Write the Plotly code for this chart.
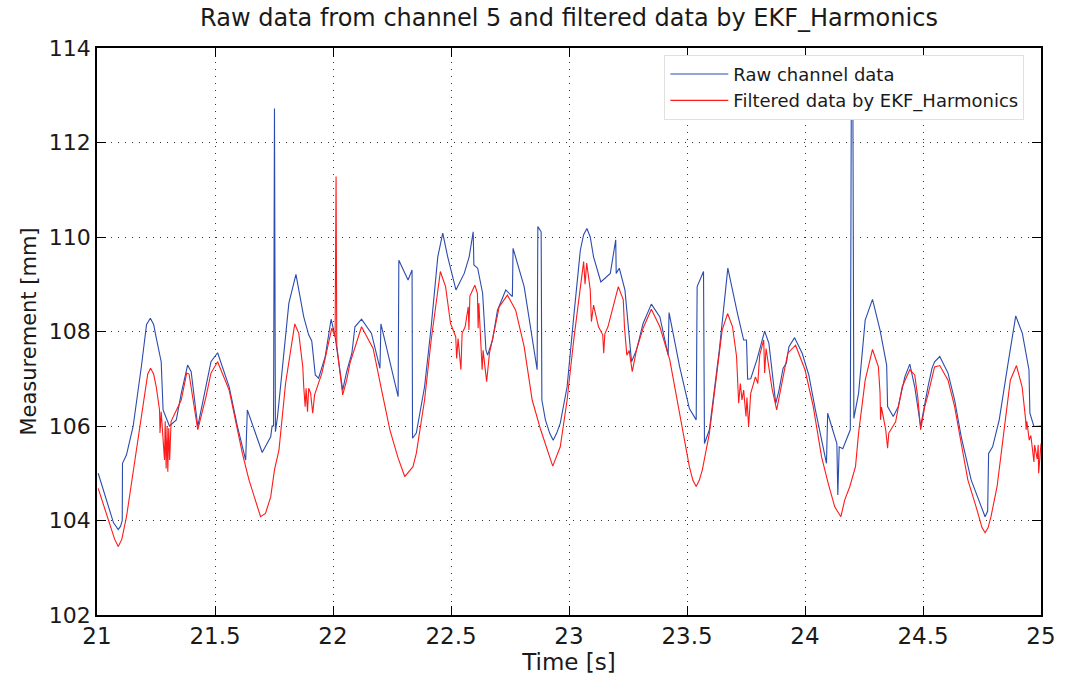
import plotly.graph_objects as go

# Raw channel data (time [s], measurement [mm])
raw_t = [21.005, 21.04, 21.07, 21.09, 21.1, 21.107, 21.108, 21.125, 21.153, 21.188, 21.21, 21.226, 21.24,
         21.25, 21.272, 21.28,
         21.307, 21.336, 21.357, 21.384, 21.399, 21.427, 21.448, 21.462, 21.483, 21.511, 21.56, 21.595,
         21.63, 21.637, 21.70, 21.736, 21.742, 21.748, 21.752, 21.756, 21.765, 21.813, 21.843, 21.876,
         21.897, 21.91, 21.925, 21.939, 21.967, 21.992, 22.009, 22.041, 22.058, 22.08, 22.093, 22.121,
         22.163, 22.199, 22.203, 22.276, 22.279, 22.318, 22.335, 22.337, 22.353, 22.388, 22.416, 22.444,
         22.465, 22.486, 22.521, 22.556, 22.577, 22.594, 22.597, 22.613, 22.634, 22.648, 22.655, 22.676,
         22.697, 22.732, 22.76, 22.763, 22.81, 22.865, 22.868, 22.882, 22.885, 22.90, 22.918, 22.933, 22.948,
         22.963, 22.992, 23.02, 23.048, 23.062, 23.076, 23.09, 23.104, 23.135, 23.175, 23.198, 23.200, 23.213,
         23.237, 23.265, 23.286, 23.314, 23.349, 23.385, 23.42, 23.424, 23.469, 23.51, 23.539, 23.543,
         23.57, 23.574, 23.595, 23.637, 23.673, 23.714, 23.74, 23.752, 23.757, 23.77, 23.796, 23.829,
         23.847, 23.876, 23.89, 23.907, 23.921, 23.932, 23.956, 23.988, 24.016, 24.044, 24.091, 24.096,
         24.135, 24.139, 24.145, 24.16, 24.178, 24.192, 24.196, 24.203, 24.207, 24.227, 24.255, 24.286,
         24.318, 24.346, 24.35, 24.374, 24.395, 24.423, 24.444, 24.465, 24.49, 24.507, 24.521, 24.538,
         24.549, 24.571, 24.606, 24.634, 24.662, 24.704, 24.763, 24.774, 24.778, 24.795, 24.823, 24.858,
         24.893, 24.921, 24.949, 24.953, 24.97, 25.0]
raw_y = [105.0, 104.43, 103.95, 103.81, 103.88, 104.0, 105.21, 105.39, 105.99, 107.26, 108.15, 108.28, 108.15,
         107.89, 107.36, 106.34,
         106.0, 106.13, 106.69, 107.29, 107.15, 105.99, 106.48, 106.82, 107.36, 107.55, 106.83, 105.99,
         105.28, 106.34, 105.44, 105.77, 106.0, 106.0, 112.72, 105.88, 106.2, 108.6, 109.21, 108.31,
         107.93, 107.8, 107.08, 107.01, 107.47, 108.26, 107.89, 106.76, 107.15, 107.54, 108.1, 108.26,
         107.96, 107.22, 108.16, 106.62, 109.51, 109.09, 109.30, 105.74, 105.85, 106.83, 108.1, 109.58,
         110.08, 109.58, 108.88, 109.23, 109.58, 110.11, 109.41, 109.34, 108.81, 107.61, 107.50, 107.82,
         108.45, 108.88, 108.74, 109.76, 108.95, 107.19, 110.22, 110.11, 106.55, 106.13, 105.85, 105.70, 105.85,
         106.06, 106.83, 108.31, 109.72, 110.05, 110.18, 110.0, 109.58, 109.05, 109.23, 109.94, 109.23, 109.34,
         108.88, 107.36, 107.61, 108.17, 108.58, 108.31, 107.50, 108.40, 107.25, 106.37, 106.13, 108.95,
         109.27, 105.63, 105.92, 107.61, 109.34, 108.38, 107.82, 107.82, 106.99, 107.0, 107.40, 108.01,
         107.75, 106.48, 106.76, 107.22, 107.33, 107.68, 107.87, 107.54, 107.08, 106.34, 105.21, 106.27,
         105.63, 104.54, 105.56, 105.52, 105.77, 105.92, 112.69, 112.69, 106.16, 106.69, 108.24, 108.68,
         108.03, 107.29, 106.41, 106.20, 106.41, 107.04, 107.31, 106.83, 105.99, 106.48, 106.83, 107.22,
         107.36, 107.47, 107.12, 106.55, 105.77, 104.86, 104.08, 104.2, 105.42, 105.56, 106.13, 107.25,
         108.33, 107.96, 107.19, 106.27, 105.99, 106.0]

# Filtered data by EKF_Harmonics
filt_t = [21.005, 21.04, 21.075, 21.09, 21.105, 21.125, 21.167, 21.195, 21.215, 21.227, 21.24, 21.251,
          21.265, 21.267, 21.272, 21.286,
          21.289, 21.293, 21.297, 21.30, 21.304, 21.308, 21.314, 21.357, 21.38, 21.39, 21.427, 21.448,
          21.462, 21.483, 21.511, 21.56, 21.616, 21.644, 21.672, 21.693, 21.714, 21.736, 21.752, 21.771,
          21.799, 21.838, 21.855, 21.872, 21.876, 21.882, 21.886, 21.892, 21.897, 21.905, 21.914, 21.922,
          21.953, 21.995, 22.009, 22.013, 22.016, 22.041, 22.058, 22.072, 22.121, 22.17, 22.206, 22.241,
          22.276, 22.304, 22.339, 22.353, 22.388, 22.416, 22.455, 22.477, 22.498, 22.52, 22.524, 22.53,
          22.542, 22.547, 22.56, 22.573, 22.576, 22.580, 22.601, 22.612, 22.615, 22.618, 22.632, 22.636,
          22.651, 22.663, 22.684, 22.704, 22.739, 22.774, 22.81, 22.844, 22.88, 22.931, 22.963, 22.992,
          23.02, 23.062, 23.068, 23.075, 23.09, 23.095, 23.104, 23.125, 23.143, 23.147, 23.152, 23.165,
          23.209, 23.23, 23.235, 23.245, 23.255, 23.268, 23.286, 23.314, 23.349, 23.385, 23.427, 23.469,
          23.51, 23.525, 23.539, 23.552, 23.565, 23.595, 23.62, 23.649, 23.672, 23.693, 23.71, 23.719,
          23.726, 23.733,
          23.74, 23.75, 23.754, 23.761, 23.77, 23.79, 23.80, 23.808, 23.825, 23.829, 23.835, 23.86,
          23.88, 23.895, 23.905, 23.927, 23.96, 24.0, 24.035, 24.07, 24.098, 24.126, 24.152, 24.168,
          24.19, 24.214, 24.227, 24.255, 24.286, 24.311, 24.318, 24.32, 24.324, 24.342, 24.35, 24.355,
          24.384, 24.412, 24.444, 24.465, 24.478, 24.49, 24.507, 24.521, 24.549, 24.571, 24.606, 24.634,
          24.662, 24.69, 24.725, 24.75, 24.763, 24.776, 24.788, 24.814, 24.842, 24.87, 24.896, 24.92,
          24.935, 24.937,
          24.940, 24.95, 24.957, 24.97, 24.973, 24.984, 24.988, 24.99, 25.0]
filt_y = [104.68, 104.15, 103.6, 103.45, 103.6, 104.08, 105.49, 106.48, 107.1, 107.22, 107.1, 106.83,
          106.34, 105.85, 106.3, 105.28,
          106.1, 105.10, 106.0, 105.03, 105.95, 105.28, 106.1, 106.55, 107.12, 107.1, 105.92, 106.34,
          106.62, 107.12, 107.36, 106.76, 105.42, 104.86, 104.43, 104.08, 104.15, 104.50, 105.07, 105.49,
          106.90, 108.16, 107.96, 107.25, 106.83, 106.41, 106.8, 106.30, 106.8, 106.7, 106.27, 106.66,
          107.12, 108.07, 107.89, 111.28, 107.7, 106.66, 106.97, 107.33, 108.10, 107.64, 106.76, 105.92,
          105.32, 104.93, 105.14, 105.42, 106.55, 107.82, 109.27, 108.95, 108.17, 107.89, 107.43, 107.85,
          107.19, 107.96, 108.1, 108.52, 108.03, 108.75, 108.98, 108.8, 108.07, 108.6, 107.19, 107.6,
          106.94, 107.54, 108.03, 108.52, 108.77, 108.45, 107.68, 106.55, 105.92, 105.15, 105.56, 106.55,
          107.82, 109.48, 109.0, 109.45, 108.88, 108.21, 108.56, 108.1, 107.93, 107.54, 107.95, 108.1,
          108.95, 108.67, 108.1, 107.50, 107.6, 107.15, 107.61, 108.07, 108.47, 108.10, 107.40, 106.27,
          105.14, 104.85, 104.72, 104.85, 105.07, 105.85, 106.83, 108.03, 108.38, 108.10, 107.47, 106.48,
          106.9, 106.55,
          106.76, 106.20, 106.6, 105.99, 106.69, 107.04, 106.9, 107.50, 107.82, 107.12, 107.64, 106.8,
          106.34, 106.7, 107.01, 107.54, 107.71, 107.19, 106.41, 105.35, 104.79, 104.29, 104.08, 104.43,
          104.72, 105.14, 105.85, 106.97, 107.62, 107.25, 106.7, 106.13, 106.4, 105.92, 105.53, 105.85,
          106.09, 106.83, 107.19, 107.08, 106.6, 105.92, 106.4, 106.66, 107.25, 107.28, 106.97, 106.41,
          105.63, 104.86, 104.29, 103.85, 103.74, 103.85, 104.08, 104.72, 105.85, 106.97, 107.28, 106.83,
          106.13, 105.92,
          106.1, 105.70, 105.8, 105.24, 105.6, 105.3, 105.6, 105.0, 105.63]

x_ticks = [21, 21.5, 22, 22.5, 23, 23.5, 24, 24.5, 25]
x_tick_labels = ["21", "21.5", "22", "22.5", "23", "23.5", "24", "24.5", "25"]
y_ticks = [102, 104, 106, 108, 110, 112, 114]

FONT = "DejaVu Sans, Liberation Sans, Arial, sans-serif"
INK = "#1a1a1a"

fig = go.Figure()
fig.add_trace(go.Scatter(x=raw_t, y=raw_y, mode="lines", name="Raw channel data",
                         line=dict(color="#2B4BAE", width=1.1)))
fig.add_trace(go.Scatter(x=filt_t, y=filt_y, mode="lines", name="Filtered data by EKF_Harmonics",
                         line=dict(color="#FF1A1A", width=1.1)))

axis_common = dict(
    showgrid=True, gridcolor="#333333", griddash="1px,6px", gridwidth=1,
    showline=True, linecolor="black", linewidth=1.5, mirror="ticks",
    ticks="inside", ticklen=9, tickcolor="black", tickwidth=1,
    zeroline=False, ticklabeloverflow="allow",
)

fig.update_xaxes(range=[21, 25], tickvals=x_ticks, ticktext=x_tick_labels,
                 tickfont=dict(family=FONT, size=23, color=INK),
                 title=dict(text="Time [s]", font=dict(family=FONT, size=23, color=INK), standoff=0),
                 **axis_common)
fig.update_yaxes(range=[102, 114], tickvals=y_ticks,
                 tickfont=dict(family=FONT, size=22, color=INK),
                 title=dict(text="Measurement [mm]", font=dict(family=FONT, size=21, color=INK), standoff=6),
                 **axis_common)

fig.update_layout(
    width=1068, height=679,
    margin=dict(l=97, r=16, t=48, b=64),
    paper_bgcolor="white", plot_bgcolor="white",
    title=dict(text="Raw data from channel 5 and filtered data by EKF_Harmonics",
               xref="paper", x=0.5, xanchor="center",
               yref="container", y=0.986, yanchor="top",
               font=dict(family=FONT, size=24, color=INK)),
    legend=dict(x=0.601, y=0.988, xanchor="left", yanchor="top",
                bgcolor="white", bordercolor="#E0E0E0", borderwidth=1,
                font=dict(family=FONT, size=18, color=INK),
                tracegroupgap=0, itemwidth=58),
    showlegend=True,
)

# remove the default 8px page margin so the 1068x679 figure fills the window exactly
fig.write_html("out.html", config={"displayModeBar": False},
               post_script="document.body.style.margin='0';")
